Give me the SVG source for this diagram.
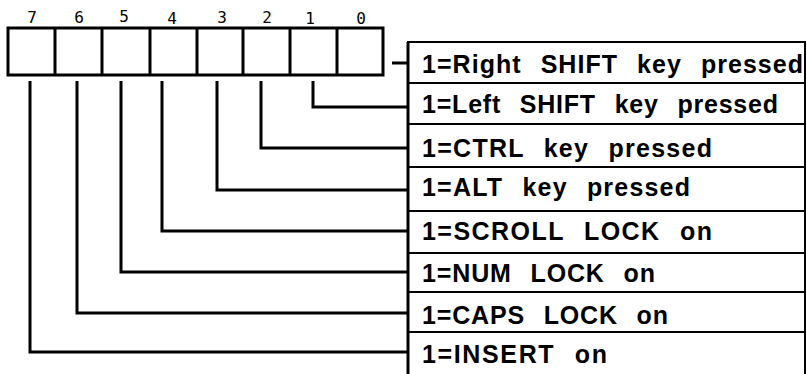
<svg xmlns="http://www.w3.org/2000/svg" width="807" height="374" viewBox="0 0 807 374">
<style>
.reg{fill:#fff;stroke:#000;stroke-width:3}
.bit{font-family:"DejaVu Sans Mono","Liberation Mono",monospace;font-size:16px;fill:#000;text-anchor:middle}
.lbl{fill:#fff;stroke:#000;stroke-width:2}
.t{font-family:"Liberation Sans",Arial,sans-serif;font-weight:bold;font-size:25px;fill:#000;word-spacing:11px}
.c{fill:none;stroke:#000;stroke-width:3}
</style>
<rect width="807" height="374" fill="#fff"/>
<g id="register">
<rect class="reg" x="8" y="28" width="375" height="47"/>
<line class="reg" x1="55" y1="28" x2="55" y2="75"/>
<line class="reg" x1="102" y1="28" x2="102" y2="75"/>
<line class="reg" x1="150" y1="28" x2="150" y2="75"/>
<line class="reg" x1="197" y1="28" x2="197" y2="75"/>
<line class="reg" x1="243" y1="28" x2="243" y2="75"/>
<line class="reg" x1="290" y1="28" x2="290" y2="75"/>
<line class="reg" x1="337" y1="28" x2="337" y2="75"/>
<text class="bit" x="32" y="23">7</text>
<text class="bit" x="79" y="23">6</text>
<text class="bit" x="124" y="22">5</text>
<text class="bit" x="172" y="24">4</text>
<text class="bit" x="222" y="23">3</text>
<text class="bit" x="267" y="23">2</text>
<text class="bit" x="310" y="24">1</text>
<text class="bit" x="361" y="24">0</text>
</g>
<g id="labels">
<g id="l0"><rect class="lbl" x="408" y="42" width="397" height="41"/><text class="t" x="422" y="73" textLength="381" lengthAdjust="spacing">1=Right SHIFT key pressed</text></g>
<g id="l1"><rect class="lbl" x="408" y="83" width="397" height="41"/><text class="t" x="422" y="113" textLength="356" lengthAdjust="spacing">1=Left SHIFT key pressed</text></g>
<g id="l2"><rect class="lbl" x="408" y="124" width="397" height="43"/><text class="t" x="422" y="157" textLength="290" lengthAdjust="spacing">1=CTRL key pressed</text></g>
<g id="l3"><rect class="lbl" x="408" y="167" width="397" height="44"/><text class="t" x="422" y="196" textLength="268" lengthAdjust="spacing">1=ALT key pressed</text></g>
<g id="l4"><rect class="lbl" x="408" y="211" width="397" height="42"/><text class="t" x="422" y="240" textLength="290" lengthAdjust="spacing">1=SCROLL LOCK on</text></g>
<g id="l5"><rect class="lbl" x="408" y="253" width="397" height="39"/><text class="t" x="422" y="282" textLength="233" lengthAdjust="spacing">1=NUM LOCK on</text></g>
<g id="l6"><rect class="lbl" x="408" y="292" width="397" height="40"/><text class="t" x="422" y="324" textLength="246" lengthAdjust="spacing">1=CAPS LOCK on</text></g>
<g id="l7"><rect class="lbl" x="408" y="332" width="397" height="44"/><text class="t" x="422" y="363" textLength="185" lengthAdjust="spacing">1=INSERT on</text></g>
</g>
<g id="connectors">
<line class="c" x1="408" y1="42" x2="408" y2="374"/>
<line class="c" x1="392" y1="63" x2="408" y2="63"/>
<polyline class="c" points="313,81 313,107 408,107"/>
<polyline class="c" points="261,81 261,148 408,148"/>
<polyline class="c" points="217,81 217,190 408,190"/>
<polyline class="c" points="162,81 162,231 408,231"/>
<polyline class="c" points="121,81 121,272 408,272"/>
<polyline class="c" points="77,81 77,313 408,313"/>
<polyline class="c" points="30,81 30,352 408,352"/>
</g>
</svg>
